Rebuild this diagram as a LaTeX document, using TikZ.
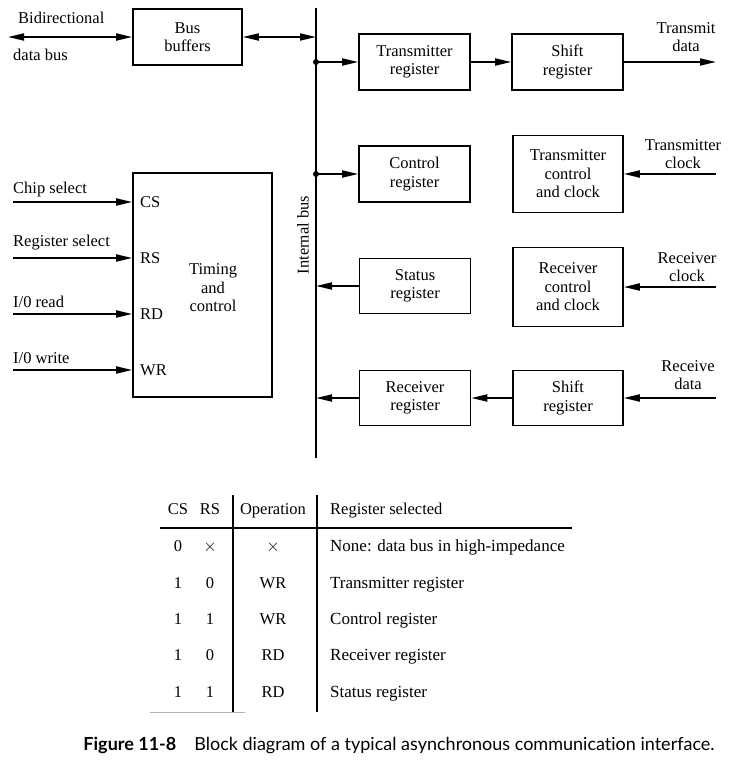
\documentclass[tikz,border=0pt]{standalone}
\usepackage{fontspec}
\setmainfont{Liberation Serif}
\newfontfamily\capfont[Ligatures=NoCommon]{Lato}
\usetikzlibrary{arrows.meta}
\begin{document}
\begin{tikzpicture}[x=1pt,y=-1pt,
  every node/.style={font=\fontsize{16.5}{18.5}\selectfont, inner sep=0pt},
  blk/.style={draw, line width=1.6pt, align=center},
  txt/.style={align=center},
  lbl/.style={anchor=west},
  cell/.style={text height=11.5pt, text depth=3.5pt},
  wire/.style={line width=1.6pt},
  sig/.style={line width=1.8pt, -{Triangle[length=16pt,width=7pt]}},
  dsig/.style={line width=1.8pt, {Triangle[length=16pt,width=7pt]}-{Triangle[length=16pt,width=7pt]}},
  tap/.style={fill=black}
]
\useasboundingbox (0,0) rectangle (732,765);

% ---- blocks ----
\node[blk, minimum width=109pt, minimum height=56pt] (busbuf) at (187.5,37) {Bus\\buffers};
\node[blk, minimum width=111pt, minimum height=56pt] (txreg)  at (414.5,62) {Transmitter\\register};
\node[blk, minimum width=111pt, minimum height=56pt] (txsh)   at (567.5,62) {Shift\\register};
\node[blk, minimum width=111pt, minimum height=56pt] (ctrl)   at (414.5,174) {Control\\register};
\node[blk, minimum width=110pt, minimum height=77pt] (txctl)  at (568,174) {Transmitter\\control\\and clock};
\node[blk, minimum width=111pt, minimum height=55pt] (stat)   at (415,286) {Status\\register};
\node[blk, minimum width=110pt, minimum height=79pt] (rxctl)  at (568,287) {Receiver\\control\\and clock};
\node[blk, minimum width=111pt, minimum height=55pt] (rxreg)  at (415,398) {Receiver\\register};
\node[blk, minimum width=110pt, minimum height=55pt] (rxsh)   at (568,398) {Shift\\register};
\node[blk, minimum width=139pt, minimum height=224pt] (tim)   at (202.5,285) {};
\node[txt] (timtxt) at (213,288) {Timing\\and\\control};

% ---- timing pins ----
\node[lbl] (pcs) at (140,202) {CS};
\node[lbl] (prs) at (140,258) {RS};
\node[lbl] (prd) at (140,314) {RD};
\node[lbl] (pwr) at (140,370) {WR};

% ---- internal bus ----
\coordinate (bustop) at (316,8);
\coordinate (busbot) at (316,458);
\draw[wire] (bustop) -- (busbot);
\coordinate (t0) at (316,37);
\coordinate (t1) at (316,62);
\coordinate (t2) at (316,174);
\coordinate (t3) at (316,286);
\coordinate (t4) at (316,398);
\fill[tap] (t1) circle (3pt);
\fill[tap] (t2) circle (3pt);
\node[rotate=90] (ibus) at (303,235) {Internal bus};

% ---- external side ----
\coordinate (dbus) at (8,37);
\node[lbl] (bidir) at (18,18) {Bidirectional};
\node[lbl] (dbuslbl) at (13,55) {data bus};
\draw[dsig] (dbus) -- (busbuf.west);
\draw[dsig] (busbuf.east) -- (t0);

\coordinate (txout) at (716,62);
\coordinate (txclk) at (716,174);
\coordinate (rxclk) at (716,287);
\coordinate (rxin)  at (716,398);
\node[txt] (txoutl) at (686,37) {Transmit\\data};
\node[txt] (txclkl) at (683,154) {Transmitter\\clock};
\node[txt] (rxclkl) at (687,267) {Receiver\\clock};
\node[txt] (rxinl)  at (688,375) {Receive\\data};

% ---- register paths ----
\draw[sig] (t1) -- (txreg.west);
\draw[sig] (txreg.east) -- (txsh.west);
\draw[sig] (txsh.east) -- (txout);
\draw[sig] (t2) -- (ctrl.west);
\draw[sig] (txclk) -- (txctl.east);
\draw[sig] (stat.west) -- (t3);
\draw[sig] (rxclk) -- (rxctl.east);
\draw[sig] (rxin) -- (rxsh.east);
\draw[sig] (rxsh.west) -- (rxreg.east);
\draw[sig] (rxreg.west) -- (t4);

% ---- control inputs ----
\coordinate (ics) at (13,202);
\coordinate (irs) at (13,258);
\coordinate (ird) at (13,314);
\coordinate (iwr) at (13,370);
\node[lbl] (lcs) at (13,190) {Chip select};
\node[lbl] (lrs) at (13,243) {Register select};
\node[lbl] (lrd) at (13,302) {I/0 read};
\node[lbl] (lwr) at (13,358) {I/0 write};
\draw[sig] (ics) -- (ics -| tim.west);
\draw[sig] (irs) -- (irs -| tim.west);
\draw[sig] (ird) -- (ird -| tim.west);
\draw[sig] (iwr) -- (iwr -| tim.west);

% ---- selection table ----
\draw[line width=1.4pt] (233,495) -- (233,712);
\draw[line width=1.4pt] (317,495) -- (317,712);
\draw[line width=1.4pt] (160,528) -- (572,528);
\draw[line width=1pt, gray!60] (150,712) -- (245,712);
\node[cell] (hcs) at (178,510) {CS};
\node[cell] (hrs) at (210,510) {RS};
\node[cell] (hop) at (273,510) {Operation};
\node[cell, lbl] (hreg) at (330,510) {Register selected};
\foreach \cs/\rs/\op/\rg/\yy in {
  0/$\times$/$\times$/None: data bus in high-impedance/547,
  1/0/WR/Transmitter register/584,
  1/1/WR/Control register/620,
  1/0/RD/Receiver register/656,
  1/1/RD/Status register/693}{
  \node[cell] (c\yy) at (178,\yy) {\cs};
  \node[cell] (r\yy) at (210,\yy) {\rs};
  \node[cell] (o\yy) at (273,\yy) {\op};
  \node[cell, lbl] (g\yy) at (330,\yy) {\fontsize{17}{19}\selectfont\rg};
}

% ---- caption ----
\node (cap) at (399,745) {\capfont\fontsize{18}{20}\selectfont\textbf{Figure 11-8}\quad Block diagram of a typical asynchronous communication interface.};
\end{tikzpicture}
\end{document}
